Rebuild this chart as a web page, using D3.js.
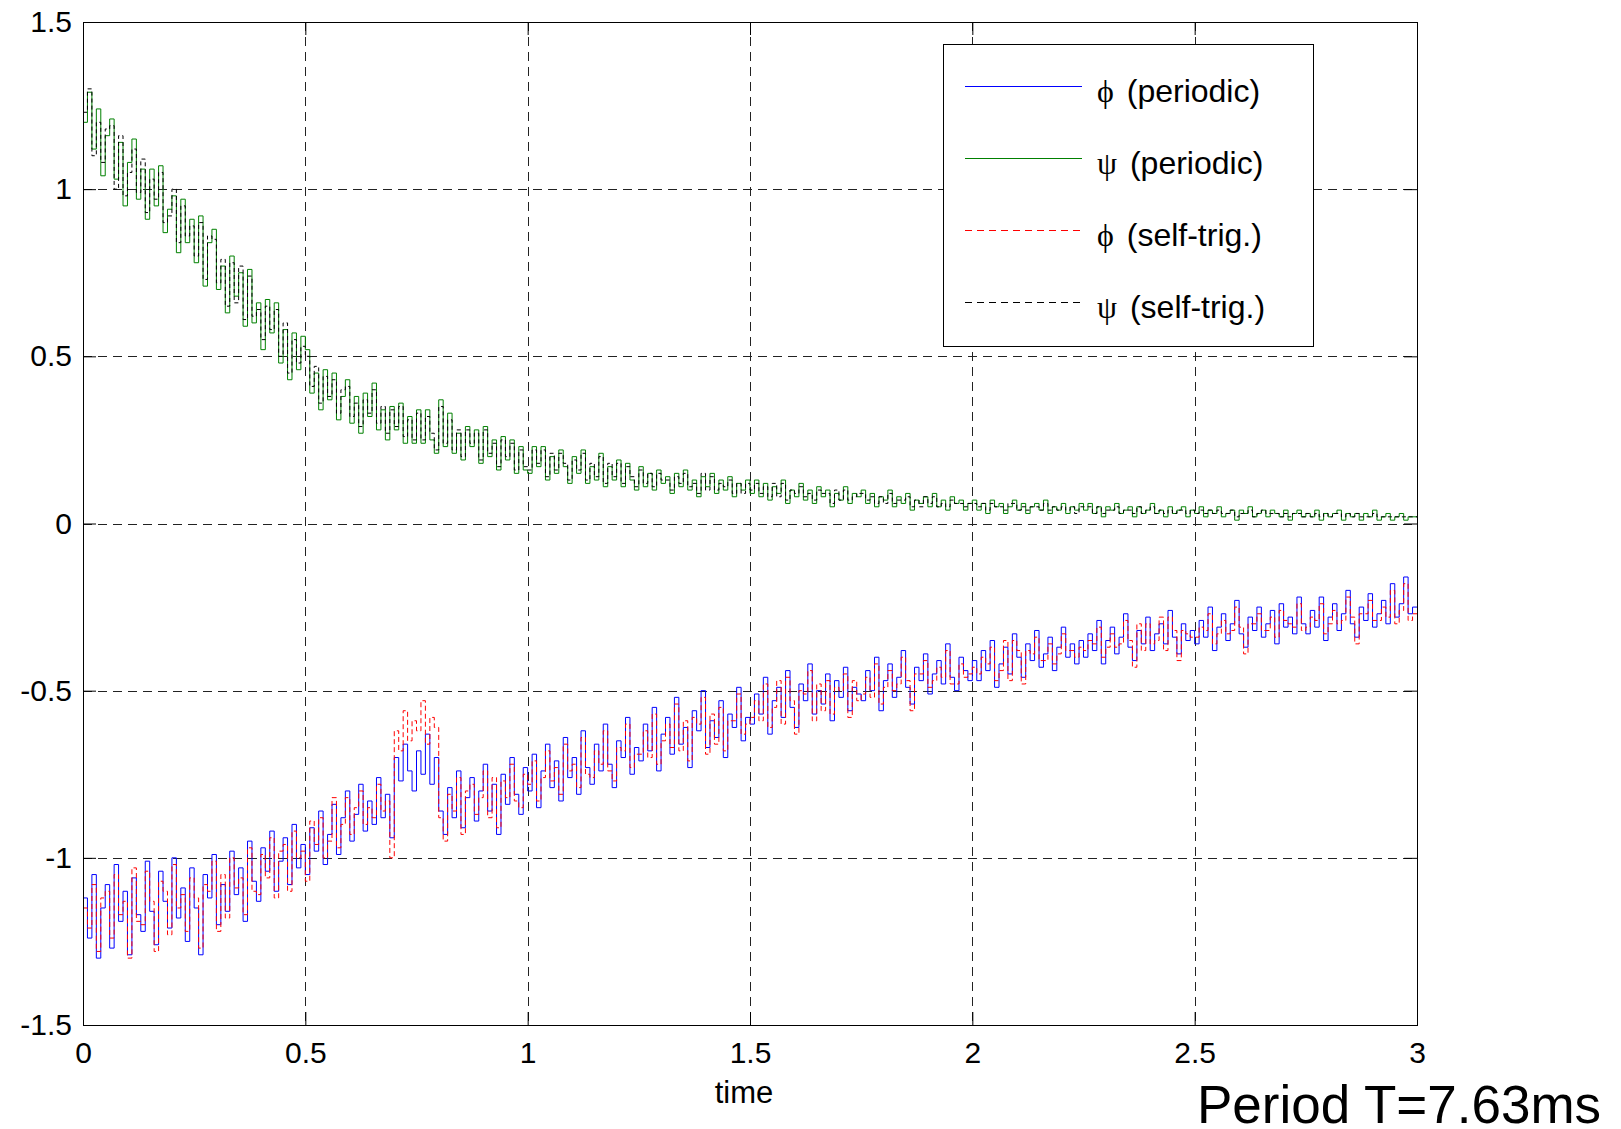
<!DOCTYPE html>
<html lang="en">
<head>
<meta charset="utf-8">
<title>phi / psi - periodic vs self-triggered</title>
<script src="https://cdn.jsdelivr.net/npm/d3@7"></script>
<style>
    body{margin:0;background:#fff;}
    text{font-family:"Liberation Sans",Arial,Helvetica,sans-serif;fill:#000;}
</style>
</head>
<body>
<div id="chart1"></div>
<script>
var tEnd = 3

var xTicks = [0, 0.5, 1, 1.5, 2, 2.5, 3]
var yTicks = [-1.5, -1, -0.5, 0, 0.5, 1, 1.5]

var legendSymbols = ["\u03d5", "\u03c8", "\u03d5", "\u03c8"]
var legendTexts = ["(periodic)", "(periodic)", "(self-trig.)", "(self-trig.)"]

// phi, periodic sampling (blue)
var phiPeriodic = [
  -1.12,-1.24,-1.05,-1.30,-1.15,-1.08,-1.27,-1.02,-1.19,-1.10,-1.29,-1.06,-1.17,-1.22,-1.01,-1.16,-1.26,-1.04,-1.13,-1.21,-1.00,-1.18,-1.09,-1.25,-1.03,
  -1.15,-1.29,-1.05,-1.12,-0.99,-1.20,-1.08,-1.16,-0.98,-1.11,-1.03,-1.19,-0.95,-1.07,-1.13,-0.97,-1.04,-0.92,-1.10,-1.01,-0.94,-1.08,-0.90,-1.03,-0.96,
  -1.05,-0.91,-0.98,-0.86,-1.02,-0.93,-0.84,-0.99,-0.88,-0.80,-0.95,-0.87,-0.78,-0.92,-0.83,-0.90,-0.76,-0.88,-0.81,-0.94,-0.70,-0.77,-0.66,-0.74,-0.80,
  -0.68,-0.75,-0.63,-0.78,-0.70,-0.86,-0.93,-0.79,-0.88,-0.74,-0.91,-0.82,-0.76,-0.89,-0.80,-0.72,-0.86,-0.78,-0.93,-0.75,-0.84,-0.70,-0.81,-0.87,-0.73,
  -0.80,-0.69,-0.85,-0.74,-0.66,-0.79,-0.71,-0.83,-0.64,-0.76,-0.70,-0.81,-0.62,-0.73,-0.78,-0.66,-0.74,-0.60,-0.72,-0.79,-0.65,-0.70,-0.58,-0.75,-0.67,
  -0.71,-0.60,-0.68,-0.55,-0.74,-0.63,-0.58,-0.69,-0.52,-0.66,-0.61,-0.73,-0.56,-0.62,-0.50,-0.67,-0.59,-0.64,-0.53,-0.70,-0.57,-0.61,-0.49,-0.65,-0.58,
  -0.60,-0.51,-0.57,-0.46,-0.63,-0.53,-0.49,-0.58,-0.44,-0.55,-0.61,-0.48,-0.53,-0.42,-0.57,-0.50,-0.54,-0.45,-0.59,-0.47,-0.52,-0.43,-0.56,-0.49,-0.51,
  -0.53,-0.44,-0.50,-0.40,-0.56,-0.47,-0.42,-0.52,-0.46,-0.38,-0.49,-0.54,-0.43,-0.47,-0.39,-0.51,-0.45,-0.41,-0.48,-0.36,-0.46,-0.50,-0.40,-0.44,-0.47,
  -0.41,-0.47,-0.38,-0.44,-0.35,-0.49,-0.42,-0.37,-0.45,-0.33,-0.40,-0.46,-0.36,-0.41,-0.32,-0.43,-0.39,-0.34,-0.44,-0.37,-0.31,-0.40,-0.36,-0.42,-0.35,
  -0.40,-0.33,-0.38,-0.29,-0.42,-0.35,-0.31,-0.39,-0.34,-0.27,-0.37,-0.41,-0.32,-0.36,-0.28,-0.38,-0.33,-0.30,-0.36,-0.26,-0.34,-0.39,-0.30,-0.35,-0.32,
  -0.36,-0.29,-0.34,-0.25,-0.38,-0.31,-0.27,-0.35,-0.30,-0.23,-0.33,-0.37,-0.28,-0.32,-0.25,-0.34,-0.30,-0.26,-0.36,-0.24,-0.31,-0.28,-0.33,-0.22,-0.30,
  -0.33,-0.26,-0.31,-0.22,-0.35,-0.28,-0.24,-0.32,-0.27,-0.20,-0.30,-0.34,-0.25,-0.29,-0.21,-0.31,-0.27,-0.23,-0.30,-0.18,-0.28,-0.24,-0.16,-0.27,-0.25
]

// psi, periodic sampling (green)
var psiPeriodic = [
  1.20,1.29,1.12,1.24,1.04,1.16,1.21,1.03,1.14,0.95,1.08,1.15,0.97,1.06,0.91,1.06,0.95,1.07,0.87,0.94,0.98,0.81,0.97,0.84,0.91,
  0.78,0.92,0.71,0.84,0.88,0.70,0.77,0.63,0.80,0.68,0.75,0.59,0.76,0.60,0.66,0.52,0.67,0.57,0.66,0.48,0.58,0.43,0.57,0.46,0.56,
  0.52,0.39,0.45,0.34,0.46,0.37,0.45,0.31,0.38,0.43,0.30,0.38,0.27,0.39,0.32,0.42,0.28,0.34,0.25,0.35,0.28,0.36,0.24,0.32,0.24,
  0.34,0.24,0.34,0.25,0.21,0.37,0.23,0.33,0.21,0.27,0.19,0.29,0.23,0.28,0.18,0.29,0.20,0.25,0.16,0.26,0.19,0.25,0.15,0.23,0.16,
  0.15,0.23,0.17,0.23,0.13,0.20,0.15,0.22,0.17,0.12,0.20,0.15,0.22,0.12,0.17,0.13,0.21,0.11,0.17,0.13,0.19,0.11,0.18,0.13,0.10,
  0.17,0.11,0.15,0.10,0.16,0.12,0.14,0.09,0.15,0.11,0.16,0.10,0.13,0.08,0.14,0.11,0.15,0.09,0.13,0.10,0.14,0.08,0.12,0.10,0.13,
  0.09,0.13,0.08,0.12,0.07,0.11,0.09,0.13,0.06,0.10,0.08,0.12,0.07,0.10,0.06,0.11,0.08,0.10,0.05,0.09,0.07,0.11,0.06,0.09,0.08,
  0.10,0.06,0.09,0.05,0.08,0.07,0.10,0.05,0.08,0.06,0.09,0.04,0.07,0.06,0.08,0.05,0.09,0.05,0.07,0.04,0.08,0.06,0.07,0.04,0.06,
  0.07,0.04,0.06,0.03,0.07,0.05,0.06,0.03,0.05,0.07,0.04,0.06,0.03,0.05,0.06,0.04,0.07,0.03,0.05,0.04,0.06,0.03,0.05,0.04,0.06,
  0.04,0.06,0.03,0.05,0.02,0.05,0.04,0.06,0.03,0.04,0.05,0.02,0.05,0.03,0.04,0.06,0.03,0.04,0.02,0.05,0.03,0.04,0.05,0.02,0.04,
  0.03,0.05,0.02,0.04,0.03,0.05,0.02,0.03,0.04,0.01,0.04,0.03,0.05,0.02,0.03,0.04,0.02,0.04,0.03,0.02,0.04,0.01,0.03,0.04,0.02,
  0.03,0.02,0.04,0.01,0.03,0.02,0.03,0.04,0.01,0.03,0.02,0.03,0.01,0.03,0.02,0.04,0.01,0.02,0.03,0.01,0.02,0.03,0.01,0.02,0.02
]

// phi, self-triggered (red dashed)
var phiSelfTrig = [
  -1.15,-1.21,-1.08,-1.28,-1.12,-1.10,-1.24,-1.05,-1.17,-1.13,-1.30,-1.03,-1.19,-1.20,-1.04,-1.13,-1.28,-1.07,-1.10,-1.23,-1.02,-1.15,-1.11,-1.22,-1.06,
  -1.12,-1.27,-1.08,-1.10,-1.01,-1.22,-1.05,-1.18,-1.00,-1.09,-1.06,-1.17,-0.97,-1.10,-1.11,-0.99,-1.06,-0.94,-1.12,-0.98,-0.96,-1.10,-0.92,-1.00,-0.98,
  -1.07,-0.89,-0.96,-0.88,-1.00,-0.95,-0.82,-0.97,-0.90,-0.82,-0.93,-0.85,-0.80,-0.90,-0.85,-0.88,-0.78,-0.86,-0.83,-1.00,-0.62,-0.68,-0.56,-0.65,-0.59,
  -0.62,-0.53,-0.66,-0.58,-0.61,-0.88,-0.95,-0.81,-0.86,-0.76,-0.93,-0.80,-0.78,-0.87,-0.82,-0.74,-0.88,-0.76,-0.91,-0.77,-0.82,-0.72,-0.83,-0.85,-0.75,
  -0.78,-0.71,-0.83,-0.76,-0.68,-0.77,-0.73,-0.81,-0.66,-0.74,-0.72,-0.79,-0.64,-0.75,-0.76,-0.68,-0.72,-0.62,-0.74,-0.77,-0.67,-0.68,-0.60,-0.73,-0.69,
  -0.69,-0.62,-0.70,-0.57,-0.72,-0.65,-0.60,-0.67,-0.54,-0.68,-0.59,-0.71,-0.58,-0.60,-0.52,-0.69,-0.57,-0.66,-0.55,-0.68,-0.59,-0.59,-0.51,-0.63,-0.60,
  -0.58,-0.53,-0.59,-0.48,-0.61,-0.55,-0.47,-0.60,-0.46,-0.53,-0.63,-0.50,-0.51,-0.44,-0.59,-0.48,-0.56,-0.47,-0.57,-0.49,-0.50,-0.45,-0.58,-0.47,-0.53,
  -0.51,-0.46,-0.52,-0.42,-0.54,-0.49,-0.44,-0.50,-0.48,-0.40,-0.47,-0.56,-0.45,-0.45,-0.41,-0.49,-0.47,-0.43,-0.46,-0.38,-0.48,-0.48,-0.42,-0.46,-0.45,
  -0.43,-0.45,-0.40,-0.42,-0.37,-0.47,-0.44,-0.35,-0.47,-0.35,-0.38,-0.48,-0.38,-0.39,-0.34,-0.41,-0.41,-0.36,-0.42,-0.39,-0.33,-0.38,-0.38,-0.40,-0.37,
  -0.38,-0.35,-0.36,-0.31,-0.40,-0.37,-0.33,-0.37,-0.36,-0.29,-0.35,-0.43,-0.30,-0.38,-0.30,-0.36,-0.35,-0.28,-0.38,-0.28,-0.32,-0.41,-0.32,-0.33,-0.34,
  -0.34,-0.31,-0.32,-0.27,-0.36,-0.33,-0.29,-0.33,-0.32,-0.25,-0.31,-0.39,-0.30,-0.30,-0.27,-0.32,-0.32,-0.28,-0.34,-0.26,-0.29,-0.30,-0.31,-0.24,-0.32,
  -0.31,-0.28,-0.29,-0.24,-0.33,-0.30,-0.26,-0.30,-0.29,-0.22,-0.28,-0.36,-0.27,-0.27,-0.23,-0.29,-0.29,-0.25,-0.28,-0.20,-0.30,-0.26,-0.18,-0.29,-0.27
]

// psi, self-triggered (black dashed)
var psiSelfTrig = [
  1.23,1.30,1.10,1.20,1.08,1.18,1.19,1.00,1.16,0.98,1.05,1.12,0.99,1.09,0.93,1.03,0.97,1.05,0.90,0.92,1.00,0.84,0.95,0.86,0.89,
  0.80,0.90,0.73,0.86,0.85,0.72,0.79,0.65,0.78,0.66,0.77,0.61,0.74,0.62,0.64,0.55,0.65,0.58,0.64,0.50,0.60,0.45,0.55,0.48,0.53,
  0.50,0.41,0.47,0.36,0.44,0.38,0.43,0.33,0.40,0.41,0.32,0.36,0.29,0.37,0.33,0.40,0.30,0.35,0.27,0.34,0.29,0.35,0.26,0.31,0.25,
  0.33,0.25,0.32,0.27,0.22,0.35,0.24,0.31,0.22,0.28,0.20,0.28,0.24,0.27,0.19,0.28,0.21,0.24,0.17,0.25,0.20,0.24,0.16,0.22,0.17,
  0.16,0.22,0.18,0.22,0.14,0.21,0.16,0.21,0.18,0.13,0.19,0.16,0.21,0.13,0.18,0.14,0.20,0.12,0.18,0.14,0.18,0.12,0.17,0.14,0.11,
  0.16,0.12,0.15,0.11,0.15,0.13,0.13,0.10,0.14,0.12,0.15,0.11,0.12,0.09,0.15,0.10,0.14,0.10,0.12,0.11,0.13,0.09,0.12,0.09,0.12,
  0.10,0.12,0.09,0.11,0.08,0.12,0.08,0.12,0.07,0.10,0.09,0.11,0.08,0.09,0.07,0.10,0.09,0.09,0.06,0.10,0.07,0.10,0.07,0.08,0.09,
  0.09,0.07,0.08,0.06,0.08,0.06,0.09,0.06,0.07,0.07,0.08,0.05,0.07,0.05,0.08,0.06,0.08,0.05,0.06,0.05,0.07,0.06,0.06,0.05,0.06,
  0.06,0.05,0.06,0.04,0.06,0.05,0.05,0.04,0.06,0.06,0.04,0.05,0.04,0.05,0.05,0.04,0.06,0.04,0.05,0.04,0.05,0.04,0.05,0.03,0.05,
  0.05,0.05,0.03,0.05,0.03,0.04,0.04,0.05,0.03,0.04,0.04,0.03,0.05,0.03,0.04,0.05,0.03,0.04,0.03,0.04,0.03,0.04,0.04,0.03,0.04,
  0.03,0.04,0.03,0.04,0.03,0.04,0.03,0.03,0.04,0.02,0.03,0.03,0.04,0.02,0.03,0.04,0.03,0.03,0.03,0.02,0.03,0.02,0.03,0.03,0.02,
  0.03,0.02,0.03,0.02,0.03,0.02,0.03,0.03,0.02,0.03,0.02,0.03,0.02,0.02,0.02,0.03,0.02,0.02,0.02,0.02,0.02,0.02,0.02,0.02,0.02
]

drawChart()

function drawChart(){
    var W = 1621, H = 1129
    var left = 83, right = 1417, top = 22, bottom = 1025

    var x = d3.scaleLinear().domain([0, tEnd]).range([left, right])
    var y = d3.scaleLinear().domain([-1.5, 1.5]).range([bottom, top])

    var svg = d3.select("#chart1")
                .append("svg")
                .attr("width", W)
                .attr("height", H)

    svg.append("clipPath").attr("id", "plotclip")
        .append("rect")
        .attr("x", left).attr("y", top)
        .attr("width", right - left).attr("height", bottom - top)

    // dashed grid
    var grid = svg.append("g").attr("stroke", "#222").attr("stroke-width", 1).attr("stroke-dasharray", "9,6")
    grid.selectAll(".vgrid")
        .data(xTicks.slice(1, -1))
        .enter().append("line")
        .attr("x1", function(d){ return Math.round(x(d)) + 0.5 })
        .attr("x2", function(d){ return Math.round(x(d)) + 0.5 })
        .attr("y1", top).attr("y2", bottom)
    grid.selectAll(".hgrid")
        .data(yTicks.slice(1, -1))
        .enter().append("line")
        .attr("y1", function(d){ return Math.round(y(d)) + 0.5 })
        .attr("y2", function(d){ return Math.round(y(d)) + 0.5 })
        .attr("x1", left).attr("x2", right)

    // the four curves, zero-order hold between samples
    var series = [
        {values: phiPeriodic, color: "#0000ff", dash: null},
        {values: psiPeriodic, color: "#008000", dash: null},
        {values: phiSelfTrig, color: "#ff0000", dash: "5,3"},
        {values: psiSelfTrig, color: "#000000", dash: "4,3"}
    ]

    var line = d3.line()
                 .curve(d3.curveStepAfter)
                 .x(function(d){ return x(d[0]) })
                 .y(function(d){ return y(d[1]) })

    var plot = svg.append("g").attr("clip-path", "url(#plotclip)")
    series.forEach(function(s){
        var dt = tEnd / s.values.length
        var pts = s.values.map(function(v, i){ return [i * dt, v] })
        pts.push([tEnd, s.values[s.values.length - 1]])   // hold last sample to the end
        plot.append("path")
            .datum(pts)
            .attr("fill", "none")
            .attr("stroke", s.color)
            .attr("stroke-width", 1)
            .attr("stroke-dasharray", s.dash)
            .attr("d", line)
    })

    // axes, ticks pointing inward like matlab
    var fmt = function(d){ return String(d) }
    svg.append("g").attr("transform", "translate(0," + bottom + ")")
        .call(d3.axisBottom(x).tickValues(xTicks).tickFormat(fmt).tickSizeInner(-13).tickSizeOuter(0).tickPadding(17))
    svg.append("g").attr("transform", "translate(" + left + ",0)")
        .call(d3.axisLeft(y).tickValues(yTicks).tickFormat(fmt).tickSizeInner(-13).tickSizeOuter(0).tickPadding(11))
    svg.append("g").attr("transform", "translate(0," + top + ")")
        .call(d3.axisTop(x).tickValues(xTicks).tickFormat("").tickSizeInner(-13).tickSizeOuter(0))
    svg.append("g").attr("transform", "translate(" + right + ",0)")
        .call(d3.axisRight(y).tickValues(yTicks).tickFormat("").tickSizeInner(-13).tickSizeOuter(0))

    svg.selectAll(".tick text")
        .attr("font-family", "'Liberation Sans', Arial, sans-serif")
        .attr("font-size", "30px")
        .attr("fill", "#000")
    svg.selectAll(".domain").attr("stroke", "#000")
    svg.selectAll(".tick line").attr("stroke", "#000")

    svg.append("rect")
        .attr("x", left + 0.5).attr("y", top + 0.5)
        .attr("width", right - left).attr("height", bottom - top)
        .attr("fill", "none").attr("stroke", "#000").attr("stroke-width", 1)

    // axis label and note
    svg.append("text")
        .attr("x", 744).attr("y", 1103)
        .attr("text-anchor", "middle")
        .attr("font-size", "31px")
        .text("time")

    svg.append("text")
        .attr("x", 1197).attr("y", 1123)
        .attr("font-size", "53px")
        .text("Period T=7.63ms")

    // legend
    var lg = svg.append("g")
    lg.append("rect")
        .attr("x", 943.5).attr("y", 44.5)
        .attr("width", 370).attr("height", 302)
        .attr("fill", "#fff").attr("stroke", "#000").attr("stroke-width", 1)

    var rowY = function(i){ return 86 + i * 72 }
    series.forEach(function(s, i){
        lg.append("line")
            .attr("x1", 965).attr("x2", 1082)
            .attr("y1", rowY(i) + 0.5).attr("y2", rowY(i) + 0.5)
            .attr("stroke", s.color)
            .attr("stroke-width", 1)
            .attr("stroke-dasharray", s.dash ? "7,5" : null)
        var t = lg.append("text")
            .attr("x", 1097).attr("y", rowY(i) + 16)
            .attr("font-size", "32px")
        t.append("tspan")
            .attr("font-family", "'Liberation Serif', 'DejaVu Serif', serif")
            .text(legendSymbols[i])
        t.append("tspan").attr("dx", 4).text(" " + legendTexts[i])
    })
}
</script>
</body>
</html>
